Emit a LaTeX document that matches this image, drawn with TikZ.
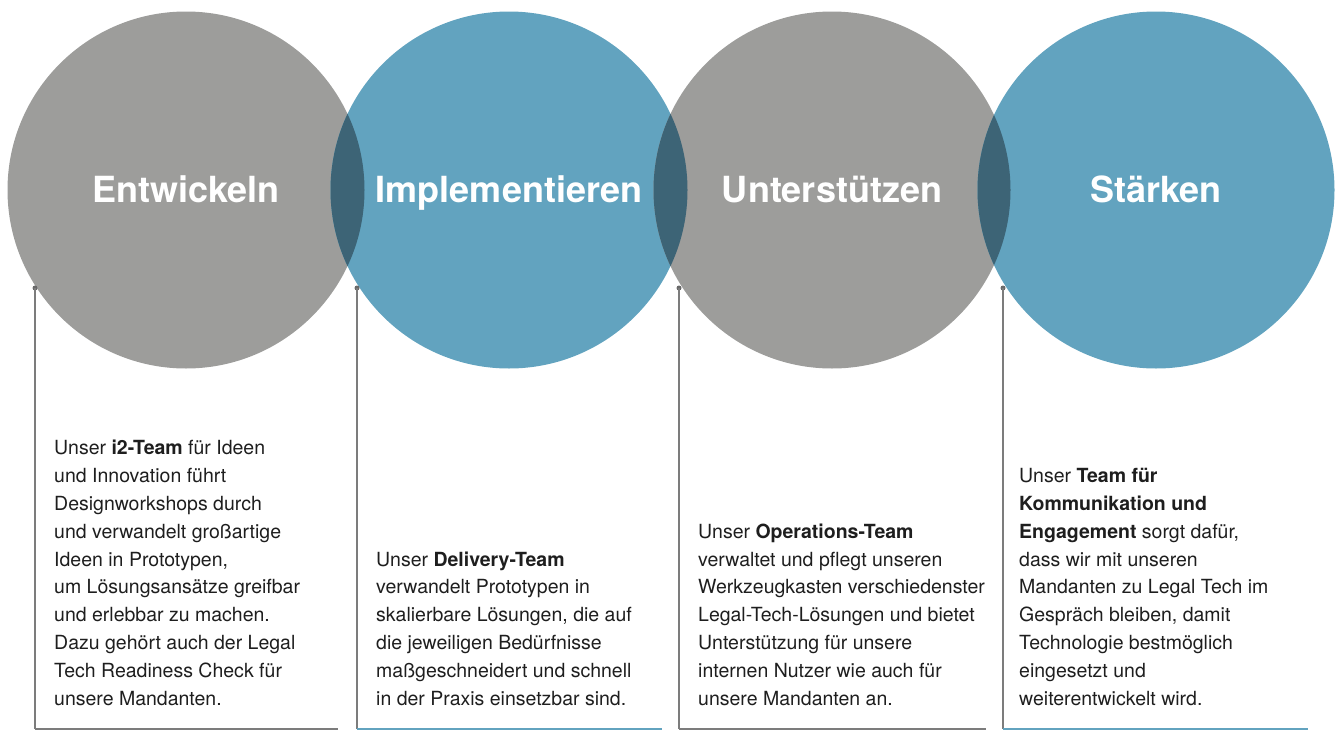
\documentclass[tikz,border=0pt]{standalone}
\usepackage{fontspec}
\setmainfont{TeX Gyre Heros}
\usepackage{xcolor}
\usepackage{tikz}
\usetikzlibrary{positioning}
\definecolor{ballgray}{HTML}{9D9D9B}
\definecolor{ballblue}{HTML}{62A3BF}
\definecolor{balldark}{HTML}{3D6476}
\definecolor{linegray}{HTML}{7C7C7C}
\definecolor{textblack}{HTML}{1E1E1E}
\tikzset{
  myball/.style={
    shape=circle,
    minimum size=357pt,
    inner sep=0pt,
    text=white,
    text height=25pt,
    text depth=0pt,
    font=\fontsize{36}{40}\selectfont\bfseries,
  },
  grayball/.style={
    myball,
    fill=ballgray,
  },
  blueball/.style={
    myball,
    fill=ballblue,
  },
  mydot/.style={
    shape=circle,
    fill=linegray!85!black,
    inner sep=0pt,
    minimum size=5pt,
  },
  myline/.style={
    draw=linegray,
    line width=1.2pt,
  },
  mybase/.style={
    line width=1.5pt,
  },
  mytext/.style={
    anchor=base west,
    align=left,
    inner sep=0pt,
    text=textblack,
    font=\fontsize{19.5}{27.8}\selectfont,
  }
}

\begin{document}
\begin{tikzpicture}[x=1pt, y=-1pt]
    \useasboundingbox (0,0) rectangle (1336,731);

    \node [grayball] (E) at (186,  190) {Entwickeln};
    \node [blueball] (I) at (509,  190) {Implementieren};
    \node [grayball] (U) at (832,  190) {Unterstützen};
    \node [blueball] (S) at (1156, 190) {Stärken};

    % overlaps
    \begin{scope}
      \clip (E.center) circle (178.5pt);
      \fill [balldark] (I.center) circle (178.5pt);
    \end{scope}
    \begin{scope}
      \clip (I.center) circle (178.5pt);
      \fill [balldark] (U.center) circle (178.5pt);
    \end{scope}
    \begin{scope}
      \clip (U.center) circle (178.5pt);
      \fill [balldark] (S.center) circle (178.5pt);
    \end{scope}

    \node [mydot] (dE) at (35,   288) {};
    \node [mydot] (dI) at (357,  288) {};
    \node [mydot] (dU) at (679,  288) {};
    \node [mydot] (dS) at (1003, 288) {};

    \coordinate (bE) at (35,   729);
    \coordinate (bI) at (357,  729);
    \coordinate (bU) at (679,  729);
    \coordinate (bS) at (1003, 729);

    \coordinate (eE) at (338,  729);
    \coordinate (eI) at (662,  729);
    \coordinate (eU) at (986,  729);
    \coordinate (eS) at (1308, 729);

    \draw [myline] (dE.center) -- (bE);
    \draw [myline] (dI.center) -- (bI);
    \draw [myline] (dU.center) -- (bU);
    \draw [myline] (dS.center) -- (bS);

    \draw [mybase, linegray] (bE) -- (eE);
    \draw [mybase, ballblue] (bI) -- (eI);
    \draw [mybase, linegray] (bU) -- (eU);
    \draw [mybase, ballblue] (bS) -- (eS);

    % texts sit on their last line
    \node [mytext] (tE) at (54,   705) {Unser \textbf{i2-Team} für Ideen\\und Innovation führt\\Designworkshops durch\\und verwandelt großartige\\Ideen in Prototypen,\\um Lösungsansätze greifbar\\und erlebbar zu machen.\\Dazu gehört auch der Legal\\Tech Readiness Check für\\unsere Mandanten.};
    \node [mytext] (tI) at (376,  705) {Unser \textbf{Delivery-Team}\\verwandelt Prototypen in\\skalierbare Lösungen, die auf\\die jeweiligen Bedürfnisse\\maßgeschneidert und schnell\\in der Praxis einsetzbar sind.};
    \node [mytext] (tU) at (698,  705) {Unser \textbf{Operations-Team}\\verwaltet und pflegt unseren\\Werkzeugkasten verschiedenster\\Legal-Tech-Lösungen und bietet\\Unterstützung für unsere\\internen Nutzer wie auch für\\unsere Mandanten an.};
    \node [mytext] (tS) at (1019, 705) {Unser \textbf{Team für}\\\textbf{Kommunikation und}\\\textbf{Engagement} sorgt dafür,\\dass wir mit unseren\\Mandanten zu Legal Tech im\\Gespräch bleiben, damit\\Technologie bestmöglich\\eingesetzt und\\weiterentwickelt wird.};
  \end{tikzpicture}
\end{document}
